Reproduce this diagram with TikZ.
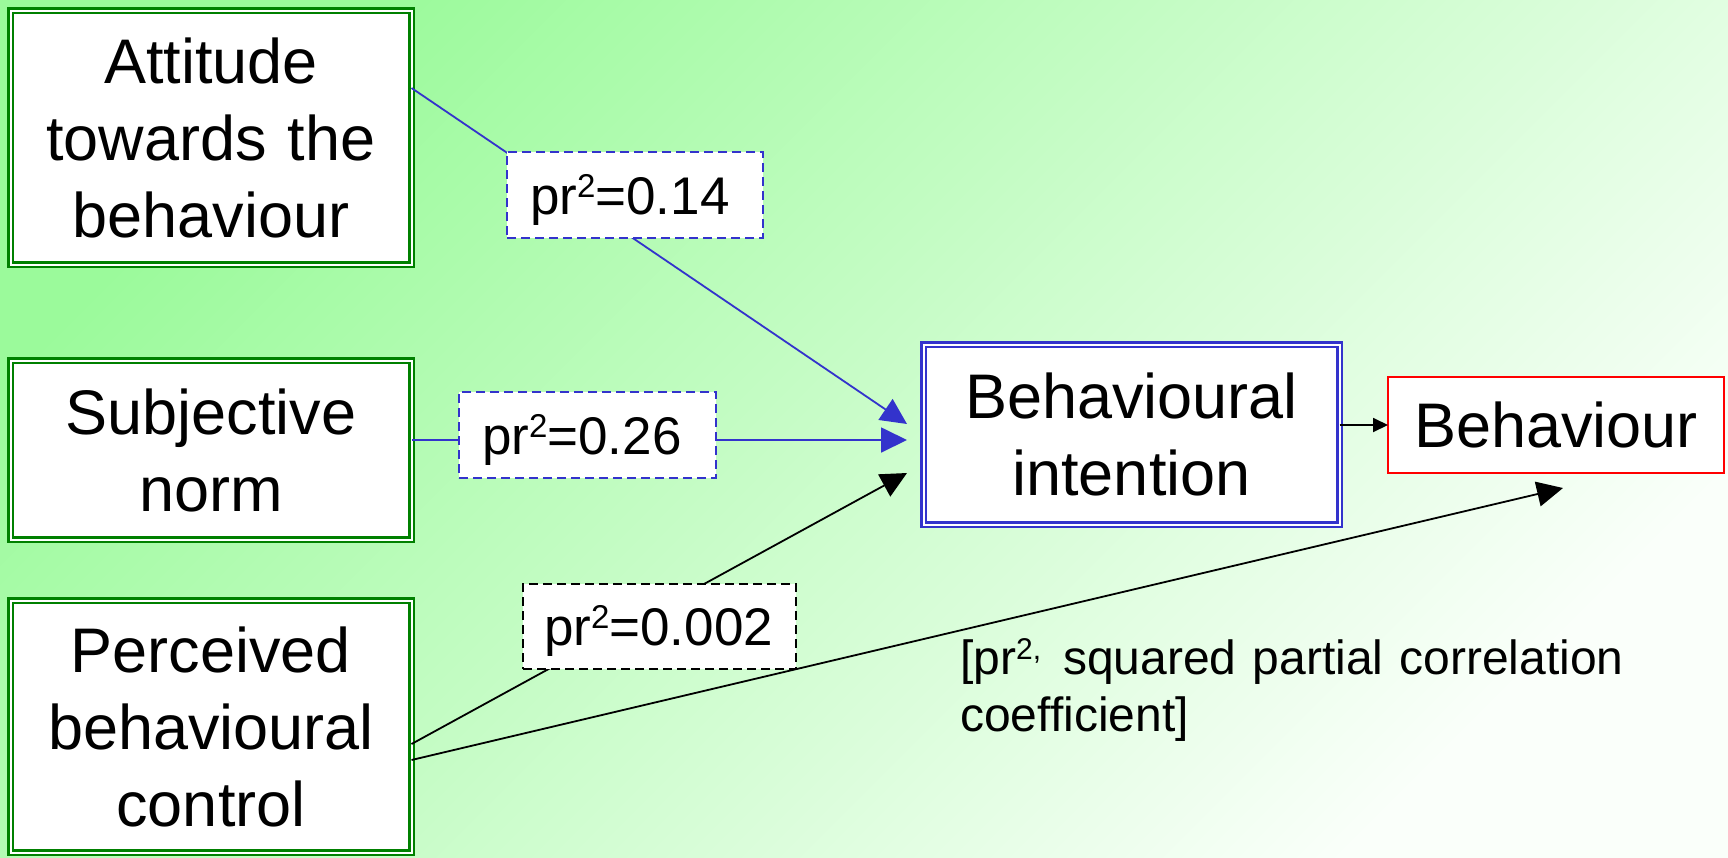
\documentclass[tikz,border=0pt]{standalone}
\usepackage{fontspec}
\setmainfont{Liberation Sans}
\usetikzlibrary{arrows.meta}
\definecolor{bgA}{RGB}{155,250,155}
\definecolor{bgB}{RGB}{250,255,250}
\definecolor{tgreen}{RGB}{0,128,0}
\definecolor{tblue}{RGB}{51,51,204}
\definecolor{tred}{RGB}{255,0,0}
\newcommand\bigfnt{\fontsize{63pt}{77pt}\selectfont}
\newcommand\labfnt{\fontsize{53pt}{64pt}\selectfont}
\newcommand\notefnt{\fontsize{48pt}{57pt}\selectfont}
\newcommand\labsup{\raisebox{17pt}{\fontsize{33pt}{33pt}\selectfont 2}}
\newcommand\notesup{\raisebox{15pt}{\fontsize{30pt}{30pt}\selectfont 2,}}
\tikzset{
  gbox/.style={draw=tgreen, line width=2.5pt, double=white, double distance=2pt,
    fill=white, inner sep=0pt, outer sep=0pt, align=center, font=\bigfnt},
  bbox/.style={gbox, draw=tblue},
  rbox/.style={draw=tred, line width=2pt, fill=white, inner sep=0pt, outer sep=0pt,
    align=center, font=\bigfnt},
  lab/.style={fill=white, line width=1.6pt, dash pattern=on 9pt off 5pt,
    inner xsep=23pt, inner ysep=0pt, align=left, font=\labfnt,
    text height=38pt, text depth=0pt},
  blab/.style={lab, draw=tblue},
  klab/.style={lab, draw=black},
  bline/.style={draw=tblue, line width=1.8pt, -{Triangle[length=26pt,width=25pt]}},
  kline/.style={draw=black, line width=1.8pt, -{Triangle[length=26pt,width=25pt]}},
  sline/.style={draw=black, line width=1.8pt, -{Triangle[length=15pt,width=14pt]}},
}
\begin{document}
\begin{tikzpicture}[x=1pt,y=-1pt]
\shade[top color=bgA, bottom color=bgB, shading angle=45] (0,0) rectangle (1728,857);
\useasboundingbox (0,0) rectangle (1728,857);

\node[gbox, minimum width=401pt, minimum height=254pt, text width=390pt] (att) at (211,137.5) {Attitude\\towards the\\behaviour};
\node[gbox, minimum width=401pt, minimum height=179pt, text width=390pt] (sn) at (211,450) {Subjective\\norm};
\node[gbox, minimum width=401pt, minimum height=252pt, text width=390pt] (pbc) at (211,726.5) {Perceived\\behavioural\\control};
\node[bbox, minimum width=416pt, minimum height=180pt, text width=405pt] (bi) at (1131.5,434.5) {Behavioural\\intention};
\node[rbox, minimum width=336pt, minimum height=96pt, text width=325pt] (b) at (1556,425) {Behaviour};

\draw[bline] ([yshift=49.5pt]att.east) -- ([xshift=-16.5pt,yshift=10.5pt]bi.west);
\draw[bline] ([yshift=10pt]sn.east) -- ([xshift=-16.5pt,yshift=-5.5pt]bi.west);
\draw[kline] ([yshift=-17.5pt]pbc.east) -- ([xshift=-16.5pt,yshift=-38.5pt]bi.west);
\draw[kline] ([yshift=-33.5pt]pbc.east) -- ([xshift=7pt,yshift=-15pt]b.south);
\draw[sline] (b.west -| bi.east) -- (b.west);

\node[blab, minimum width=256pt, minimum height=86pt, text width=210pt] (l1) at (635,195) {pr\labsup=0.14};
\node[blab, minimum width=257pt, minimum height=86pt, text width=211pt] (l2) at (587.5,435) {pr\labsup=0.26};
\node[klab, minimum width=273pt, minimum height=85pt, text width=231pt, inner xsep=21pt] (l3) at (659.5,626.5) {pr\labsup=0.002};

\node[anchor=north west, inner sep=0pt, align=left, text width=720pt, font=\notefnt] (note) at (960,638)
  {[pr\notesup\hspace{22pt}squared partial correlation\\coefficient]};
\end{tikzpicture}
\end{document}
